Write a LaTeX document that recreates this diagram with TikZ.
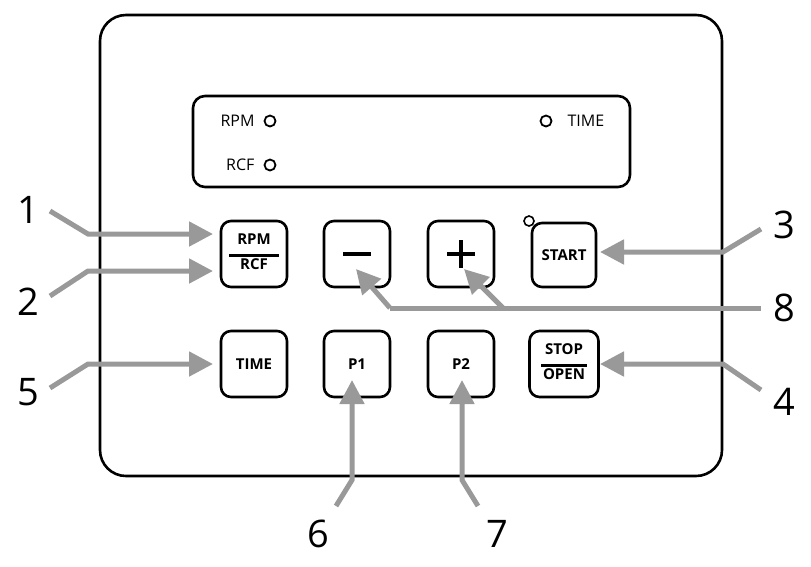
\documentclass[tikz,border=0pt]{standalone}
\usepackage{fontspec}
\setmainfont{Open Sans}
\usetikzlibrary{arrows.meta}
\begin{document}
\begin{tikzpicture}[x=1pt,y=-1pt,
  btn/.style={draw,line width=2.6pt,rounded corners=10pt,minimum width=66pt,minimum height=66pt,inner sep=0pt,font=\fontsize{15}{16}\selectfont\bfseries},
  arr/.style={draw=black!40,line width=5pt,-{Triangle[length=24pt,width=24pt]}},
  ln/.style={draw=black!40,line width=5pt},
  num/.style={font=\fontsize{38}{40}\selectfont},
  lab/.style={font=\fontsize{16}{18}\selectfont}]
\useasboundingbox (0,0) rectangle (811,566);
\draw[line width=2.6pt,rounded corners=26pt] (100,15) rectangle (722,476);
\draw[line width=2.6pt,rounded corners=12pt] (193,96) rectangle (630,187);
\node[lab,anchor=east] (trpm) at (258,121) {RPM};
\draw[line width=1.8pt] (270,121) circle (5.5);
\node[lab,anchor=east] (trcf) at (258,165) {RCF};
\draw[line width=1.8pt] (270,165) circle (5.5);
\draw[line width=1.8pt] (546,121) circle (5.5);
\node[lab,anchor=west] (ttime) at (564,121) {TIME};
\node[btn] (rpm) at (254,254) {\begin{tabular}{@{}c@{}}RPM\\[-4pt]\rule{50pt}{2.5pt}\\[-3pt]RCF\end{tabular}};
\node[btn] (minus) at (357,254) {};
\draw[line width=4pt] (343,254) -- (371,254);
\node[btn] (plus) at (461,254) {};
\draw[line width=4pt] (447,254) -- (475,254) (461,240) -- (461,268);
\node[btn,minimum width=64pt,minimum height=64pt] (start) at (564,255) {START};
\draw[line width=1.6pt,fill=white] (529,221) circle (5);
\node[btn] (time) at (254,364) {TIME};
\node[btn] (p1) at (357,364) {P1};
\node[btn] (p2) at (461,364) {P2};
\node[btn,minimum width=69pt] (stop) at (564,364) {\begin{tabular}{@{}c@{}}STOP\\[-4pt]\rule{46pt}{2.5pt}\\[-3pt]OPEN\end{tabular}};
\node[num] (n1) at (28,210) {1};
\node[num] (n2) at (28,302) {2};
\node[num] (n5) at (28,392) {5};
\node[num] (n3) at (784,225) {3};
\node[num] (n8) at (784,308) {8};
\node[num] (n4) at (784,402) {4};
\node[num] (n6) at (318,534) {6};
\node[num] (n7) at (497,534) {7};
\coordinate (a1) at (50,211); \coordinate (a2) at (50,296); \coordinate (a5) at (50,388);
\coordinate (a3) at (761,229); \coordinate (a4) at (761,390); \coordinate (a8) at (761,308);
\coordinate (a6) at (336,506); \coordinate (a7) at (478,506);
\draw[arr] (a1) -- (88,234) -- (213,234);
\draw[arr] (a2) -- (88,271) -- (213,271);
\draw[arr] (a5) -- (88,364) -- (213,364);
\draw[arr] (a3) -- (723,252) -- (600,252);
\draw[arr] (a4) -- (723,364) -- (600,364);
\draw[ln] (a8) -- (390,308);
\draw[arr] (390,308) -- (356,269);
\draw[arr] (503,308) -- (464,269);
\draw[arr] (a6) -- (352,480) -- (352,380);
\draw[arr] (a7) -- (462,480) -- (462,380);
\end{tikzpicture}
\end{document}
